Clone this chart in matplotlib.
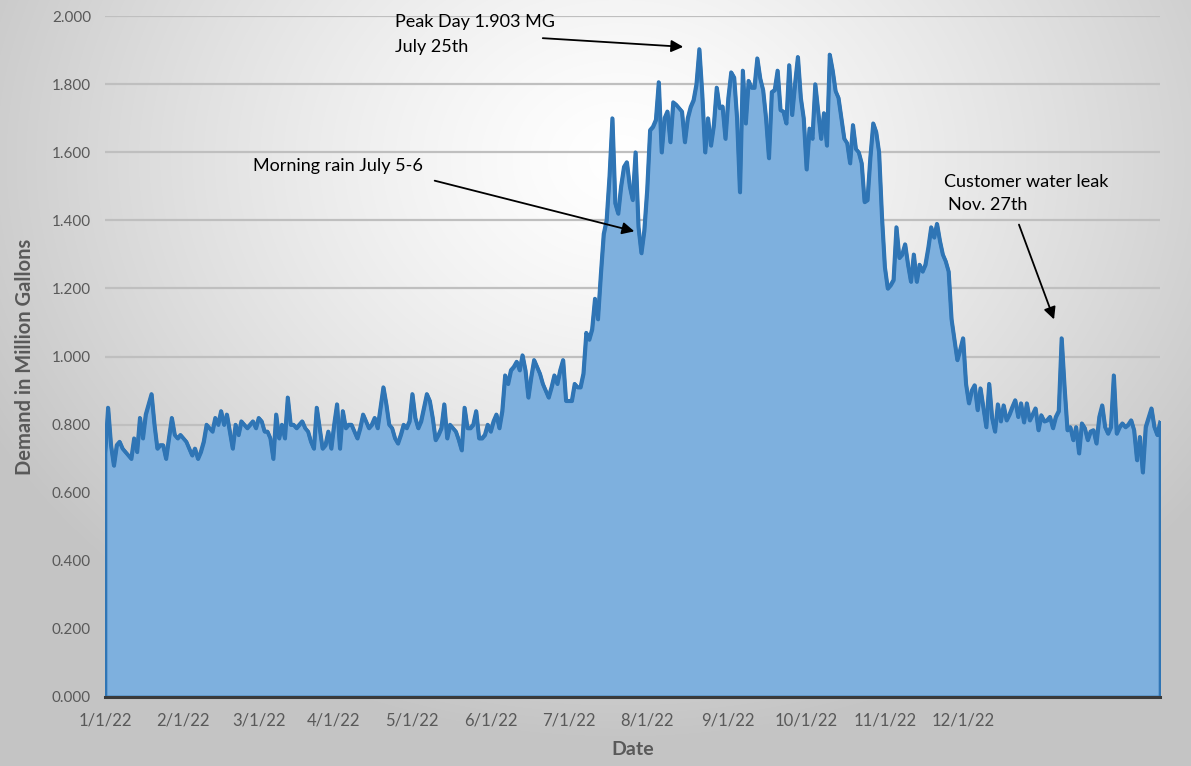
import numpy as np
import matplotlib
matplotlib.use("Agg")
import matplotlib.pyplot as plt

# daily demand (million gallons), 2022
jan = [0.716, 0.85, 0.74, 0.68, 0.74, 0.75, 0.73, 0.72, 0.71, 0.70, 0.76, 0.72, 0.82, 0.76, 0.83, 0.86,
       0.89, 0.80, 0.73, 0.74, 0.74, 0.70, 0.76, 0.82, 0.77, 0.76, 0.77, 0.76, 0.75, 0.73, 0.71]
feb = [0.73, 0.70, 0.72, 0.75, 0.80, 0.79, 0.78, 0.82, 0.80, 0.84, 0.80, 0.83, 0.78, 0.73, 0.80, 0.77,
       0.81, 0.80, 0.79, 0.80, 0.81, 0.79, 0.82, 0.81, 0.78, 0.78, 0.76, 0.70]
mar = [0.83, 0.76, 0.80, 0.76, 0.88, 0.80, 0.80, 0.79, 0.80, 0.81, 0.79, 0.78, 0.75, 0.73, 0.85, 0.79,
       0.73, 0.74, 0.78, 0.73, 0.80, 0.86, 0.73, 0.84, 0.79, 0.80, 0.80, 0.78, 0.76, 0.79, 0.83]
apr = [0.81, 0.79, 0.80, 0.82, 0.79, 0.85, 0.91, 0.86, 0.80, 0.79, 0.76, 0.745, 0.77, 0.80, 0.79, 0.81,
       0.89, 0.82, 0.79, 0.81, 0.85, 0.89, 0.87, 0.82, 0.755, 0.77, 0.79, 0.86, 0.76, 0.80]
may = [0.79, 0.78, 0.755, 0.725, 0.85, 0.79, 0.79, 0.80, 0.84, 0.76, 0.76, 0.77, 0.80, 0.78, 0.81, 0.83,
       0.79, 0.84, 0.945, 0.92, 0.96, 0.97, 0.985, 0.96, 1.004, 0.96, 0.88, 0.94, 0.99, 0.97, 0.95]
jun = [0.92, 0.90, 0.88, 0.91, 0.945, 0.92, 0.96, 0.99, 0.87, 0.87, 0.87, 0.92, 0.91, 0.91, 0.95, 1.07,
       1.05, 1.08, 1.17, 1.11, 1.24, 1.36, 1.40, 1.53, 1.70, 1.45, 1.42, 1.50, 1.557, 1.571]
jul = [1.50, 1.46, 1.60, 1.38, 1.304, 1.37, 1.49, 1.665, 1.675, 1.695, 1.806, 1.60, 1.70, 1.72, 1.63, 1.747,
       1.74, 1.73, 1.72, 1.63, 1.70, 1.733, 1.753, 1.80, 1.903, 1.77, 1.60, 1.70, 1.62, 1.68, 1.79]
aug = [1.73, 1.735, 1.64, 1.76, 1.835, 1.82, 1.70, 1.483, 1.84, 1.685, 1.81, 1.79, 1.79, 1.876, 1.817, 1.783,
       1.70, 1.583, 1.777, 1.783, 1.84, 1.724, 1.72, 1.685, 1.856, 1.71, 1.80, 1.88, 1.76, 1.70, 1.55]
sep = [1.67, 1.64, 1.80, 1.72, 1.64, 1.715, 1.62, 1.887, 1.84, 1.78, 1.76, 1.70, 1.64, 1.627, 1.568, 1.68,
       1.61, 1.60, 1.568, 1.454, 1.46, 1.586, 1.685, 1.66, 1.60, 1.41, 1.263, 1.20, 1.21, 1.225]
oct_ = [1.38, 1.29, 1.30, 1.33, 1.27, 1.22, 1.30, 1.22, 1.27, 1.25, 1.27, 1.32, 1.38, 1.35, 1.39, 1.34,
        1.30, 1.28, 1.25, 1.11, 1.05, 0.99, 1.02, 1.054, 0.92, 0.863, 0.90, 0.916, 0.843, 0.907, 0.85]
nov = [0.793, 0.92, 0.82, 0.78, 0.86, 0.81, 0.857, 0.813, 0.83, 0.852, 0.872, 0.823, 0.863, 0.807, 0.863, 0.813,
       0.83, 0.848, 0.784, 0.828, 0.81, 0.813, 0.823, 0.79, 0.823, 0.84, 1.054, 0.91, 0.784, 0.793]
dec = [0.755, 0.793, 0.716, 0.804, 0.79, 0.755, 0.78, 0.784, 0.745, 0.823, 0.857, 0.793, 0.774, 0.793, 0.945, 0.774,
       0.793, 0.804, 0.793, 0.80, 0.813, 0.784, 0.696, 0.764, 0.66, 0.793, 0.82, 0.848, 0.793, 0.77, 0.807]

tick_labels = ["1/1/22", "2/1/22", "3/1/22", "4/1/22", "5/1/22", "6/1/22",
               "7/1/22", "8/1/22", "9/1/22", "10/1/22", "11/1/22", "12/1/22"]
tick_days = [0, 27, 53, 79, 106, 133, 160, 187, 215, 242, 269, 296]
y_ticks = [0.0, 0.2, 0.4, 0.6, 0.8, 1.0, 1.2, 1.4, 1.6, 1.8, 2.0]

demand = np.array(jan + feb + mar + apr + may + jun + jul + aug + sep + oct_ + nov + dec)
days = np.arange(len(demand))

plt.rcParams["font.family"] = ["Lato", "DejaVu Sans"]

W, H = 1191, 766
fig = plt.figure(figsize=(W / 100, H / 100), dpi=100)

# grey-to-white radial background
bg = fig.add_axes([0, 0, 1, 1], zorder=-10)
yy, xx = np.mgrid[0:H, 0:W]
r = np.sqrt(((xx - 620) / 740.0) ** 2 + ((yy - 160) / 600.0) ** 2)
shade = np.clip(1.0 - 0.24 * r ** 1.3, 0.77, 1.0)
bg.imshow(np.dstack([shade] * 3), aspect="auto", extent=[0, 1, 0, 1])
bg.axis("off")

ax = fig.add_axes([105 / W, 1 - 697 / H, (1160 - 105) / W, (697 - 16) / H])
ax.set_facecolor("none")

for v in y_ticks[1:]:
    ax.axhline(v, color="#bfbfbf", lw=1.6, zorder=1)

ax.fill_between(days, demand, 0, facecolor="#7eb0de", edgecolor="#2f75b5", lw=2.6, zorder=2)
ax.plot(days, demand, color="#2f75b5", lw=2.6, zorder=3)

ax.set_xlim(days[0], days[-1])
ax.set_ylim(0, 2.0)
ax.set_yticks(y_ticks)
ax.set_yticklabels(["%.3f" % v for v in y_ticks])
ax.set_xticks(tick_days)
ax.set_xticklabels(tick_labels)
ax.tick_params(axis="x", length=0, labelsize=12, colors="#595959", pad=11)
ax.tick_params(axis="y", length=0, labelsize=11, colors="#595959", pad=10)

for s in ["top", "right", "left"]:
    ax.spines[s].set_visible(False)
ax.spines["bottom"].set_color("#3a3a3a")
ax.spines["bottom"].set_linewidth(2.2)
ax.spines["bottom"].set_zorder(4)

ax.set_xlabel("Date", fontsize=14, fontweight="bold", color="#595959", labelpad=9)
ax.set_ylabel("Demand in Million Gallons", fontsize=14.5, fontweight="bold", color="#595959", labelpad=12)

arrow = dict(arrowstyle="-|>", color="black", lw=1.3, mutation_scale=18)
fp = "figure pixels"
fig.text(395 / W, 1 - 22 / H, "Peak Day 1.903 MG", fontsize=13, va="center", ha="left")
fig.text(395 / W, 1 - 47 / H, "July 25th", fontsize=13, va="center", ha="left")
ax.annotate("", xy=(686, H - 47), xytext=(540, H - 38), xycoords=fp, textcoords=fp, arrowprops=arrow)

fig.text(253 / W, 1 - 166 / H, "Morning rain July 5-6", fontsize=13, va="center", ha="left")
ax.annotate("", xy=(637, H - 232), xytext=(432, H - 180), xycoords=fp, textcoords=fp, arrowprops=arrow)

fig.text(944 / W, 1 - 182 / H, "Customer water leak", fontsize=13, va="center", ha="left")
fig.text(948 / W, 1 - 205 / H, "Nov. 27th", fontsize=13, va="center", ha="left")
ax.annotate("", xy=(1055, H - 322), xytext=(1018, H - 222), xycoords=fp, textcoords=fp, arrowprops=arrow)

fig.savefig("out.png", dpi=100)
